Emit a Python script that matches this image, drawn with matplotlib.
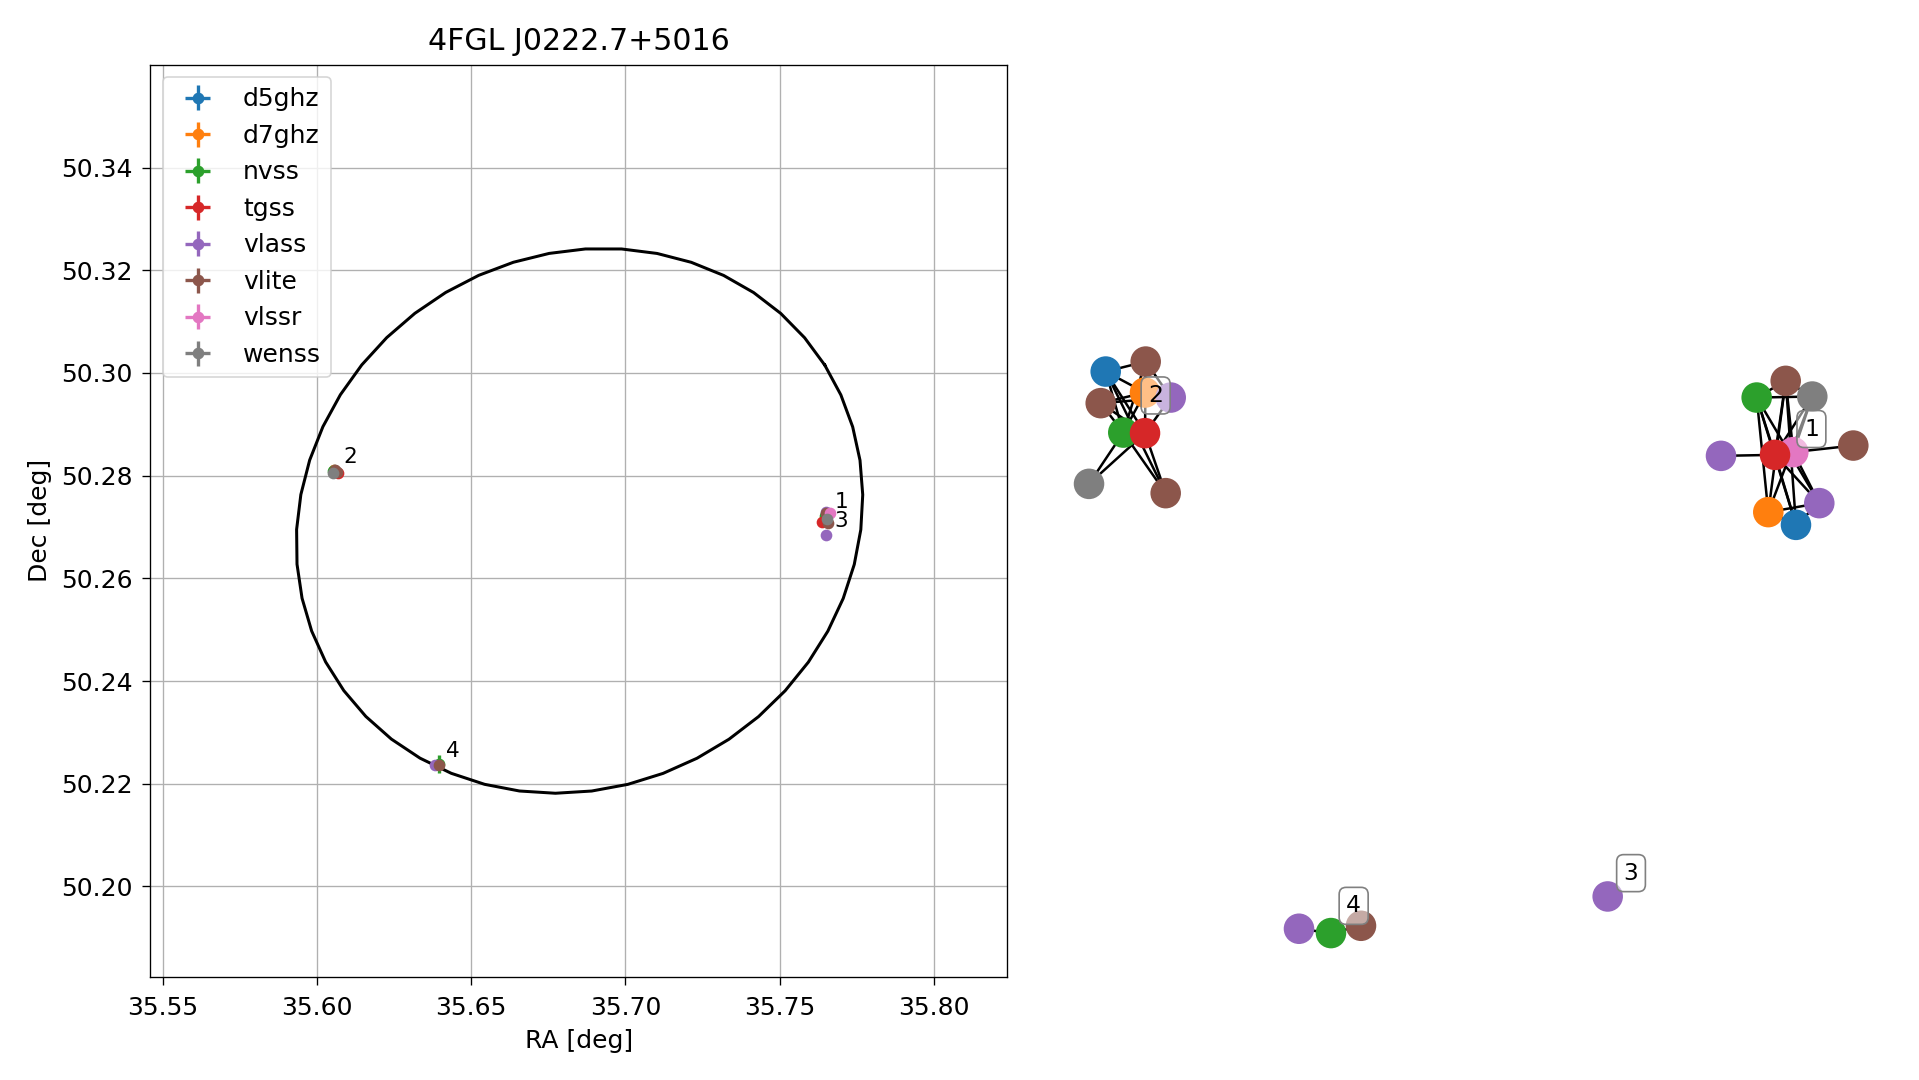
import matplotlib
matplotlib.use("Agg")
import matplotlib.pyplot as plt
import numpy as np

plt.rcParams['font.size'] = 15

title = "4FGL J0222.7+5016"
catalogs = ["d5ghz", "d7ghz", "nvss", "tgss", "vlass", "vlite", "vlssr", "wenss"]
colors = dict(zip(catalogs, ["C%d" % i for i in range(8)]))

# sources: catalog, group, ra, dec, ra_err, dec_err
src_cat = ["d5ghz", "d7ghz", "nvss", "tgss", "vlass", "vlass", "vlite", "vlite", "vlssr", "wenss",
           "vlass",
           "d5ghz", "d7ghz", "nvss", "tgss", "vlass", "vlite", "vlite", "vlite", "wenss",
           "vlass", "nvss", "vlite"]
src_grp = [1, 1, 1, 1, 1, 1, 1, 1, 1, 1,
           3,
           2, 2, 2, 2, 2, 2, 2, 2, 2,
           4, 4, 4]
src_ra = [35.7650, 35.7650, 35.7648, 35.7637, 35.7650, 35.7652, 35.7657, 35.7650, 35.7663, 35.7655,
          35.7650,
          35.6055, 35.6055, 35.6052, 35.6068, 35.6058, 35.6065, 35.6058, 35.6055, 35.6053,
          35.6384, 35.6397, 35.6397]
src_dec = [50.2723, 50.2724, 50.2722, 50.2710, 50.2730, 50.2725, 50.2708, 50.2727, 50.2727, 50.2715,
           50.2684,
           50.2811, 50.2811, 50.2810, 50.2805, 50.2809, 50.2808, 50.2811, 50.2807, 50.2805,
           50.2236, 50.2238, 50.2236]
src_ra_err = [0.0001, 0.0001, 0.0003, 0.0004, 0.0001, 0.0001, 0.0003, 0.0003, 0.0004, 0.0004,
              0.0001,
              0.0001, 0.0001, 0.0003, 0.0004, 0.0001, 0.0003, 0.0003, 0.0003, 0.0004,
              0.0001, 0.0009, 0.0004]
src_dec_err = [0.0001, 0.0001, 0.0003, 0.0003, 0.0001, 0.0001, 0.0003, 0.0003, 0.0003, 0.0004,
               0.0001,
               0.0001, 0.0001, 0.0003, 0.0003, 0.0001, 0.0003, 0.0003, 0.0003, 0.0004,
               0.0001, 0.0017, 0.0004]

# 4FGL 95% ellipse: centre and the two axis vectors (deg)
ell_ra0, ell_dec0 = 35.6851, 50.2712
ell_a = (0.07952, 0.03034)
ell_b = (-0.04595, 0.04353)
ell_npts = 50

# graph layout of the match groups: source index and node position
node_src = [9, 6, 7, 4, 8, 3, 2, 1, 0, 5,
            10,
            11, 16, 12, 15, 17, 13, 14, 19, 18,
            20, 21, 22]
node_x = [0.7960, 0.7342, 0.8914, 0.5837, 0.7519, 0.7093, 0.6667, 0.6937, 0.7581, 0.8123,
          0.3202,
          -0.8472, -0.7542, -0.7558, -0.6960, -0.8588, -0.8063, -0.7558, -0.8860, -0.7077,
          -0.3977, -0.3233, -0.2535]
node_y = [0.2726, 0.3070, 0.1651, 0.1425, 0.1507, 0.1447, 0.2704, 0.0191, -0.0088, 0.0388,
          -0.8239,
          0.3274, 0.3493, 0.2814, 0.2704, 0.2581, 0.1936, 0.1923, 0.0811, 0.0607,
          -0.8947, -0.9042, -0.8882]
edges = [(6, 1), (6, 0), (1, 0), (6, 5), (6, 7), (6, 9), (6, 8),
         (1, 5), (1, 4), (1, 7), (1, 8), (0, 5), (0, 7), (0, 4),
         (3, 5), (4, 2), (7, 9), (8, 9), (7, 8), (5, 8), (4, 9), (5, 9),
         (11, 12), (11, 13), (11, 16), (11, 17), (11, 19), (15, 13), (15, 14),
         (15, 16), (15, 17), (12, 17), (12, 16), (12, 14), (18, 16), (18, 17),
         (19, 17), (19, 16), (13, 16), (14, 17),
         (20, 21), (21, 22)]

fig = plt.figure(figsize=(1919 / 120, 9), dpi=120)
ax = fig.add_axes([0.0784, 0.0956, 0.4465, 0.8443])

src_cat = np.array(src_cat)
src_grp = np.array(src_grp)
src_ra = np.array(src_ra)
src_dec = np.array(src_dec)
src_ra_err = np.array(src_ra_err)
src_dec_err = np.array(src_dec_err)

for cat in catalogs:
    m = src_cat == cat
    ax.errorbar(src_ra[m], src_dec[m], xerr=src_ra_err[m], yerr=src_dec_err[m],
                fmt='o', color=colors[cat], label=cat, elinewidth=2)

t = np.linspace(0, 2 * np.pi, ell_npts)
ax.plot(ell_ra0 + ell_a[0] * np.cos(t) + ell_b[0] * np.sin(t),
        ell_dec0 + ell_a[1] * np.cos(t) + ell_b[1] * np.sin(t), 'k-', lw=1.8)

for g in sorted(set(src_grp)):
    m = src_grp == g
    ax.annotate(str(g), (src_ra[m].mean(), src_dec[m].mean()), xytext=(5, 5),
                textcoords='offset points', fontsize=13)

ax.set_xlim(35.546, 35.8238)
ax.set_ylim(50.1824, 50.36)
ax.set_xticks(np.arange(35.55, 35.801, 0.05))
ax.set_yticks(np.arange(50.20, 50.341, 0.02))
ax.tick_params(axis='x', length=5, pad=6.5)
ax.tick_params(axis='y', length=5, pad=5.5)
ax.grid(True)
ax.legend(loc='upper left')
ax.set_xlabel("RA [deg]", labelpad=5.5)
ax.set_ylabel("Dec [deg]", labelpad=5.5)
ax.set_title(title, pad=9)

# right: match graph
ax2 = fig.add_axes([1040 / 1919, 0.0956, 860 / 1919, 0.8443])
node_x = np.array(node_x)
node_y = np.array(node_y)
for i, j in edges:
    ax2.plot([node_x[i], node_x[j]], [node_y[i], node_y[j]], color='k', lw=1.5, zorder=1)
node_col = [colors[src_cat[s]] for s in node_src]
ax2.scatter(node_x, node_y, s=300, c=node_col, zorder=2)
node_grp = src_grp[np.array(node_src)]
for g in sorted(set(node_grp)):
    m = node_grp == g
    ax2.annotate(str(g), (node_x[m].mean(), node_y[m].mean()), xytext=(14, 14),
                 textcoords='offset points', fontsize=14, ha='center', va='center',
                 bbox=dict(boxstyle='round', fc=(1, 1, 1, 0.5), ec='gray'), zorder=3)
ax2.set_xlim(-1, 1)
ax2.set_ylim(-1, 1)
ax2.axis('off')

fig.savefig('out.png', dpi=120)
